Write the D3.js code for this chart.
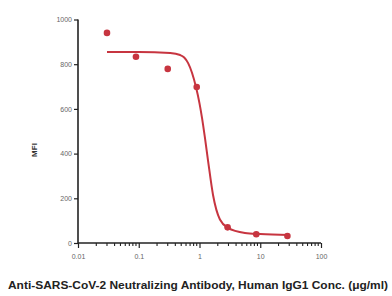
<!DOCTYPE html>
<html><head><meta charset="utf-8">
<script src="https://cdn.jsdelivr.net/npm/d3@7"></script>
<style>body{margin:0;background:#fff}svg{display:block}</style>
</head><body>
<svg id="c" width="392" height="296"></svg>
<script>
const pointX = [0.03, 0.09, 0.3, 0.9, 2.9, 8.6, 28];
const pointY = [940, 833, 779, 698, 70, 39, 31];
const curveX = [0.03, 0.1, 0.33, 0.48, 0.56, 0.65, 0.875, 1.0, 1.1, 1.23, 1.38, 1.67, 2.17, 2.94, 5.6, 10, 30];
const curveY = [855, 855, 850, 841, 830, 805, 698, 625, 560, 470, 370, 215, 105, 68, 45, 40, 36];
const xTicks = [0.01, 0.1, 1, 10, 100];
const xTickLabels = ["0.01", "0.1", "1", "10", "100"];
const yTicks = [0, 200, 400, 600, 800, 1000];

const svg = d3.select("#c");
const x = d3.scaleLog().domain([0.01, 100]).range([78, 321]);
const y = d3.scaleLinear().domain([0, 1000]).range([243, 19.5]);
const red = "#c73540";

// y axis
const ya = svg.append("g").attr("transform", "translate(78,0)")
  .call(d3.axisLeft(y).tickValues(yTicks).tickFormat(d3.format("d")).tickSize(4).tickPadding(2));
ya.select(".domain").attr("stroke", "#222").attr("stroke-width", 1.6).attr("d", `M0,${y(1000)}H0V${y(0)}`);
ya.selectAll(".tick line").attr("stroke", "#222").attr("stroke-width", 1.2);
ya.selectAll(".tick text").attr("font-family", "Liberation Sans Narrow, Arial Narrow, sans-serif").attr("font-size", 7).attr("fill", "#666");

// x axis minor ticks
const minor = [];
for (let e = -2; e < 2; e++) for (let k = 2; k <= 9; k++) minor.push(k * Math.pow(10, e));
const xa = svg.append("g").attr("transform", "translate(0,243)")
  .call(d3.axisBottom(x).tickValues(xTicks).tickFormat((d, i) => xTickLabels[i]).tickSize(5).tickPadding(6));
xa.select(".domain").attr("stroke", "#222").attr("stroke-width", 1.6).attr("d", `M${x(0.01)},0H${x(100)}`);
xa.selectAll(".tick line").attr("stroke", "#222").attr("stroke-width", 1.2);
xa.selectAll(".tick text").attr("font-family", "Liberation Sans Narrow, Arial Narrow, sans-serif").attr("font-size", 7).attr("fill", "#666");
xa.selectAll("line.minor").data(minor).enter().append("line").attr("class", "minor")
  .attr("x1", d => x(d)).attr("x2", d => x(d)).attr("y1", 0).attr("y2", 3)
  .attr("stroke", "#222").attr("stroke-width", 1.1);

// curve
const curve = curveX.map((d, i) => [d, curveY[i]]);
svg.append("path").datum(curve)
  .attr("d", d3.line().x(d => x(d[0])).y(d => y(d[1])).curve(d3.curveMonotoneX))
  .attr("fill", "none").attr("stroke", red).attr("stroke-width", 2);

// points
svg.selectAll("circle.p").data(pointX).enter().append("circle").attr("class", "p")
  .attr("cx", d => x(d)).attr("cy", (d, i) => y(pointY[i])).attr("r", 3.3).attr("fill", red);

// labels
svg.append("text").attr("transform", "translate(37,150) rotate(-90)").attr("text-anchor", "middle")
  .attr("font-family", "Liberation Sans, Arial, sans-serif").attr("font-weight", "bold").attr("font-size", 8).attr("fill", "#333").text("MFI");
svg.append("text").attr("x", 8).attr("y", 289).attr("textLength", 380).attr("lengthAdjust", "spacingAndGlyphs")
  .attr("font-family", "Liberation Sans Narrow, Arial Narrow, sans-serif").attr("font-weight", "bold").attr("font-size", 10).attr("fill", "#222")
  .text("Anti-SARS-CoV-2 Neutralizing Antibody, Human IgG1 Conc. (μg/ml)");
</script>
</body></html>
